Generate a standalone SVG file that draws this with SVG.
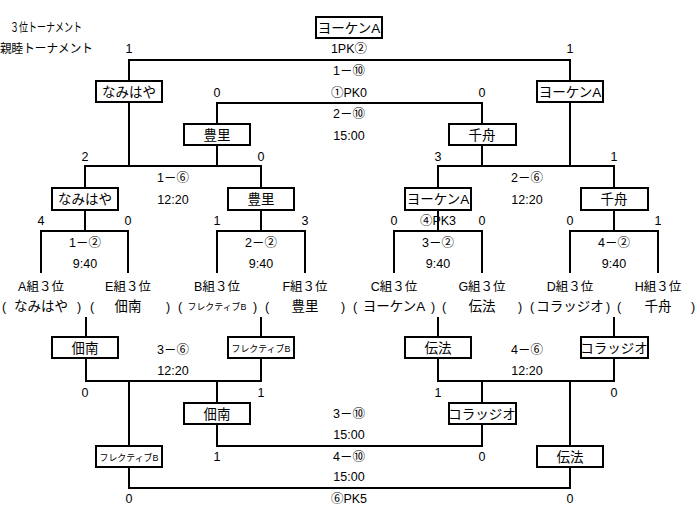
<svg xmlns="http://www.w3.org/2000/svg" width="699" height="507" viewBox="0 0 699 507">
<style>
text{font-family:"Liberation Sans","Noto Sans CJK JP",sans-serif;font-size:12.5px;fill:#000;text-anchor:middle}
.nm{font-size:13.5px}
.sm{font-size:9px}
.lt{text-anchor:start}
.box{fill:#fff;stroke:#000;stroke-width:2}
.ln{fill:none;stroke:#000;stroke-width:2}
</style>
<rect width="699" height="507" fill="#fff"/>
<g id="connectors">
<path class="ln" d="M129,81V60H570V81"/>
<path class="ln" d="M217,124V103H482V124"/>
<path class="ln" d="M129,102V166M85,188V166H261V188M217,145V166"/>
<path class="ln" d="M570,102V166M438,188V166H614V188M482,145V166"/>
<path class="ln" d="M85,210V231M41,273V231H128V273M261,210V231M217,273V231H305V273"/>
<path class="ln" d="M438,210V231M394,273V231H482V273M614,210V231M570,273V231H658V273"/>
<path class="ln" d="M86,317V337M86,358V381H261V358M261,317V337"/>
<path class="ln" d="M438,317V337M438,358V381H614V358M614,317V337"/>
<path class="ln" d="M129,381V446M217,381V403M217,424V446H482V424M482,381V403"/>
<path class="ln" d="M129,467V488H570V467M570,381V446"/>
</g>
<g id="titles">
<text class="lt" x="10" y="32" textLength="72" lengthAdjust="spacingAndGlyphs">３位トーナメント</text>
<text class="lt" x="0" y="53" textLength="93" lengthAdjust="spacingAndGlyphs">親睦トーナメント</text>
</g>
<g id="n-final"><rect class="box" x="316" y="17" width="66" height="21"/><text class="nm" x="349" y="33">ヨーケンA</text></g>
<g id="n-sf1"><rect class="box" x="96" y="81" width="66" height="21"/><text class="nm" x="129" y="97">なみはや</text></g>
<g id="n-sf2"><rect class="box" x="537" y="81" width="66" height="21"/><text class="nm" x="570" y="97">ヨーケンA</text></g>
<g id="n-p3a"><rect class="box" x="184" y="124" width="66" height="21"/><text class="nm" x="217" y="140">豊里</text></g>
<g id="n-p3b"><rect class="box" x="449" y="124" width="67" height="21"/><text class="nm" x="482" y="140">千舟</text></g>
<g id="n-qf1"><rect class="box" x="52" y="188" width="66" height="22"/><text class="nm" x="85" y="204">なみはや</text></g>
<g id="n-qf2"><rect class="box" x="228" y="188" width="66" height="22"/><text class="nm" x="261" y="204">豊里</text></g>
<g id="n-qf3"><rect class="box" x="405" y="188" width="66" height="22"/><text class="nm" x="438" y="204">ヨーケンA</text></g>
<g id="n-qf4"><rect class="box" x="581" y="188" width="67" height="22"/><text class="nm" x="614" y="204">千舟</text></g>
<g id="n-l1"><rect class="box" x="52" y="337" width="66" height="21"/><text class="nm" x="85" y="353">佃南</text></g>
<g id="n-l2"><rect class="box" x="228" y="337" width="66" height="21"/><text class="sm" x="261" y="352" textLength="59" lengthAdjust="spacingAndGlyphs">フレクティブB</text></g>
<g id="n-l3"><rect class="box" x="405" y="337" width="66" height="21"/><text class="nm" x="438" y="353">伝法</text></g>
<g id="n-l4"><rect class="box" x="581" y="337" width="67" height="21"/><text class="nm" x="614" y="353">コラッジオ</text></g>
<g id="n-m1"><rect class="box" x="184" y="403" width="66" height="21"/><text class="nm" x="217" y="419">佃南</text></g>
<g id="n-m2"><rect class="box" x="449" y="403" width="67" height="21"/><text class="nm" x="482" y="419">コラッジオ</text></g>
<g id="n-m3"><rect class="box" x="96" y="446" width="66" height="21"/><text class="sm" x="129" y="461" textLength="59" lengthAdjust="spacingAndGlyphs">フレクティブB</text></g>
<g id="n-m4"><rect class="box" x="537" y="446" width="66" height="21"/><text class="nm" x="570" y="462">伝法</text></g>
<g id="labels">
<text x="129" y="53">1</text><text x="349" y="53">1PK②</text><text x="570" y="53">1</text>
<text x="349" y="75">1－⑩</text>
<text x="217" y="97">0</text><text x="349" y="97">①PK0</text><text x="482" y="97">0</text>
<text x="349" y="118">2－⑩</text>
<text x="349" y="140">15:00</text>
<text x="85" y="161">2</text><text x="261" y="161">0</text><text x="438" y="161">3</text><text x="614" y="161">1</text>
<text x="173" y="182">1－⑥</text><text x="527" y="182">2－⑥</text>
<text x="173" y="204">12:20</text><text x="527" y="204">12:20</text>
<text x="41" y="225">4</text><text x="128" y="225">0</text><text x="217" y="225">1</text><text x="305" y="225">3</text>
<text x="394" y="225">0</text><text x="438" y="225">④PK3</text><text x="482" y="225">0</text><text x="570" y="225">0</text><text x="658" y="225">1</text>
<text x="85" y="247">1－②</text><text x="261" y="247">2－②</text><text x="438" y="247">3－②</text><text x="614" y="247">4－②</text>
<text x="85" y="268">9:40</text><text x="261" y="268">9:40</text><text x="438" y="268">9:40</text><text x="614" y="268">9:40</text>
<text x="41" y="291">A組３位</text><text x="128" y="291">E組３位</text><text x="217" y="291">B組３位</text><text x="305" y="291">F組３位</text>
<text x="394" y="291">C組３位</text><text x="482" y="291">G組３位</text><text x="570" y="291">D組３位</text><text x="658" y="291">H組３位</text>
<text x="4" y="311">(</text><text class="nm" x="41" y="311">なみはや</text><text x="79" y="311">)</text>
<text x="92" y="311">(</text><text class="nm" x="128" y="311">佃南</text><text x="168" y="311">)</text>
<text x="180" y="311">(</text><text class="sm" x="217" y="310" textLength="59" lengthAdjust="spacingAndGlyphs">フレクティブB</text><text x="255" y="311">)</text>
<text x="267" y="311">(</text><text class="nm" x="305" y="311">豊里</text><text x="343" y="311">)</text>
<text x="355" y="311">(</text><text class="nm" x="394" y="311">ヨーケンA</text><text x="433" y="311">)</text>
<text x="444" y="311">(</text><text class="nm" x="482" y="311">伝法</text><text x="520" y="311">)</text>
<text x="532" y="311">(</text><text class="nm" x="570" y="311">コラッジオ</text><text x="608" y="311">)</text>
<text x="619" y="311">(</text><text class="nm" x="658" y="311">千舟</text><text x="693" y="311">)</text>
<text x="173" y="354">3－⑥</text><text x="527" y="354">4－⑥</text>
<text x="173" y="375">12:20</text><text x="527" y="375">12:20</text>
<text x="85" y="397">0</text><text x="261" y="397">1</text><text x="438" y="397">1</text><text x="614" y="397">0</text>
<text x="349" y="418">3－⑩</text>
<text x="349" y="439">15:00</text>
<text x="217" y="461">1</text><text x="349" y="461">4－⑩</text><text x="482" y="461">0</text>
<text x="349" y="481">15:00</text>
<text x="129" y="503">0</text><text x="349" y="503">⑥PK5</text><text x="570" y="503">0</text>
</g>
</svg>
